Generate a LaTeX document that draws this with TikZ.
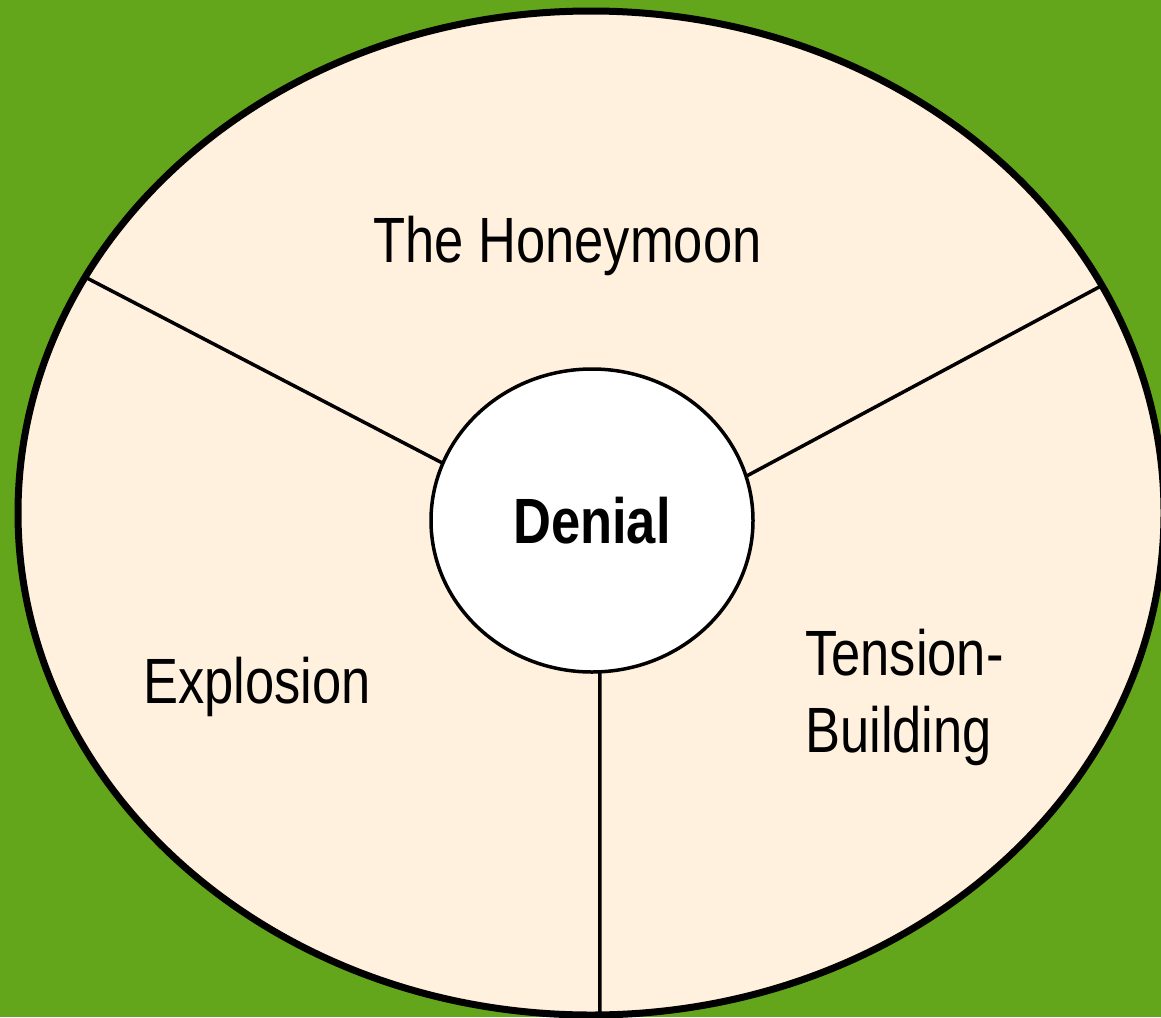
\documentclass[tikz,border=0pt]{standalone}
\usepackage{fontspec}
\setmainfont{Liberation Sans}[FakeStretch=0.82]
\usetikzlibrary{shapes.geometric}

\definecolor{bggreen}{RGB}{100,166,27}
\definecolor{cream}{RGB}{255,241,222}

\tikzset{
  phase/.style={font=\fontsize{64}{77}\selectfont, inner sep=0pt},
  ring/.style={ellipse, draw=black, inner sep=0pt, outer sep=0pt},
  spoke/.style={draw=black, line width=3.5pt},
}

\begin{document}
\begin{tikzpicture}[x=1pt, y=-1pt]
    \useasboundingbox (0,0) rectangle (1161,1017);
    \fill[bggreen] (0,0) rectangle (1161,1017);
    \clip (0,0) rectangle (1161,1017);
    % the cycle and its centre
    \node[ring, fill=cream, line width=7pt, minimum width=1146pt, minimum height=1004pt] (cycle) at (591,513) {};
    \node[ring, fill=white, line width=3.5pt, minimum width=322pt, minimum height=303pt, font=\fontsize{64}{77}\selectfont\bfseries] (denial) at (592,520.5) {Denial};
    % the three phases
    \draw[spoke] (denial.159) -- (cycle.155.4);
    \draw[spoke] (denial.16.1) -- (cycle.24.2);
    \draw[spoke] (denial.-87.4) -- (cycle.-89.1);
    \node[phase] (honeymoon) at (567.5,262) [anchor=base] {The Honeymoon};
    \node[phase] (explosion) at (257,703) [anchor=base] {Explosion};
    \node[phase, align=left] (tension) at (805,752) [anchor=base west] {Tension-\\Building};
\end{tikzpicture}
\end{document}
